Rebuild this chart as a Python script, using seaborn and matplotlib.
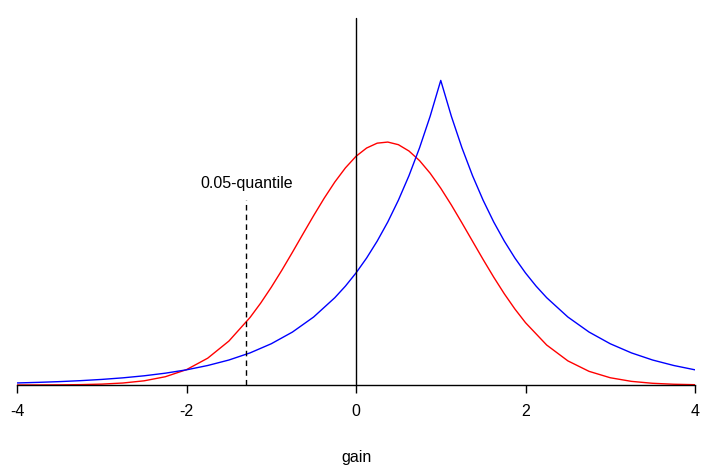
import matplotlib
matplotlib.use("Agg")
import matplotlib.pyplot as plt
import pandas as pd
import seaborn as sns

# Valeurs
gain_rouge = [-4, -3.75, -3.5, -3.25, -3, -2.75, -2.5, -2.25, -2, -1.75, -1.5,
              -1.25, -1.125, -1, -0.875, -0.75, -0.625, -0.5, -0.375, -0.25,
              -0.125, 0, 0.125, 0.25, 0.375, 0.5, 0.625, 0.75, 0.875, 1, 1.125,
              1.25, 1.375, 1.5, 1.625, 1.75, 1.875, 2, 2.25, 2.5, 2.75, 3, 3.25,
              3.5, 3.75, 4]
dens_rouge = [0.00003, 0.00009, 0.00024, 0.00061, 0.00146, 0.00327, 0.00687,
              0.01357, 0.0252, 0.0440, 0.0721, 0.1109, 0.1344, 0.1604, 0.1884,
              0.2179, 0.2481, 0.2780, 0.3067, 0.3332, 0.3564, 0.3754, 0.3890,
              0.3970, 0.3988, 0.3945, 0.3841, 0.3683, 0.3476, 0.3230, 0.2955,
              0.2661, 0.2360, 0.2060, 0.1770, 0.1497, 0.1247, 0.1023, 0.0656,
              0.0396, 0.0224, 0.0119, 0.00596, 0.00280, 0.00123, 0.00051]
gain_bleu = [-4, -3.75, -3.5, -3.25, -3, -2.75, -2.5, -2.25, -2, -1.75, -1.5,
             -1.25, -1, -0.75, -0.5, -0.25, -0.125, 0, 0.125, 0.25, 0.375, 0.5,
             0.625, 0.75, 0.875, 1, 1.125, 1.25, 1.375, 1.5, 1.625, 1.75, 1.875,
             2, 2.125, 2.25, 2.5, 2.75, 3, 3.25, 3.5, 3.75, 4]
dens_bleue = [0.00337, 0.00433, 0.00555, 0.00713, 0.00916, 0.01176, 0.0151,
              0.0194, 0.0249, 0.0320, 0.0410, 0.0527, 0.0677, 0.0869, 0.1116,
              0.1433, 0.1623, 0.1839, 0.2084, 0.2362, 0.2676, 0.3033, 0.3436,
              0.3894, 0.4412, 0.5, 0.4412, 0.3894, 0.3436, 0.3033, 0.2676,
              0.2362, 0.2084, 0.1839, 0.1623, 0.1433, 0.1116, 0.0869, 0.0677,
              0.0527, 0.0410, 0.0320, 0.0249]
quantile_x = -1.295
quantile_haut = 0.304
ligne_zero_haut = 0.603
xticks = [-4, -2, 0, 2, 4]

sns.set_theme(style="ticks")
plt.rcParams["font.family"] = ["Liberation Sans", "DejaVu Sans"]
plt.rcParams["text.color"] = "black"

df_rouge = pd.DataFrame({"gain": gain_rouge, "dens": dens_rouge})
df_bleu = pd.DataFrame({"gain": gain_bleu, "dens": dens_bleue})

fig = plt.figure(figsize=(7.14, 4.67), dpi=100)
ax = fig.add_axes([17 / 714, 82 / 467, 678 / 714, 385 / 467])
sns.lineplot(data=df_rouge, x="gain", y="dens", color="red", lw=1, ax=ax)
sns.lineplot(data=df_bleu, x="gain", y="dens", color="blue", lw=1, ax=ax)
ax.plot([0, 0], [0, ligne_zero_haut], color="black", lw=1)
ax.plot([quantile_x, quantile_x], [0, quantile_haut], color="black", lw=1,
        ls=(0, (4, 3)))
ax.text(quantile_x, quantile_haut + 0.015, "0.05-quantile", ha="center",
        va="bottom", fontsize=11.5, color="black")

ax.set_xlim(-4, 4)
ax.set_ylim(0, 0.632)
ax.set_xticks(xticks)
ax.set_xticklabels([str(t) for t in xticks], fontsize=11.5, color="black")
ax.set_yticks([])
ax.set_xlabel("gain", fontsize=11.5, labelpad=22, color="black")
ax.set_ylabel("")
for s in ["top", "left", "right"]:
    ax.spines[s].set_visible(False)
ax.spines["bottom"].set_linewidth(1)
ax.spines["bottom"].set_color("black")
ax.tick_params(axis="x", length=6, width=1, pad=8, colors="black")

fig.savefig("out.png", dpi=100)
